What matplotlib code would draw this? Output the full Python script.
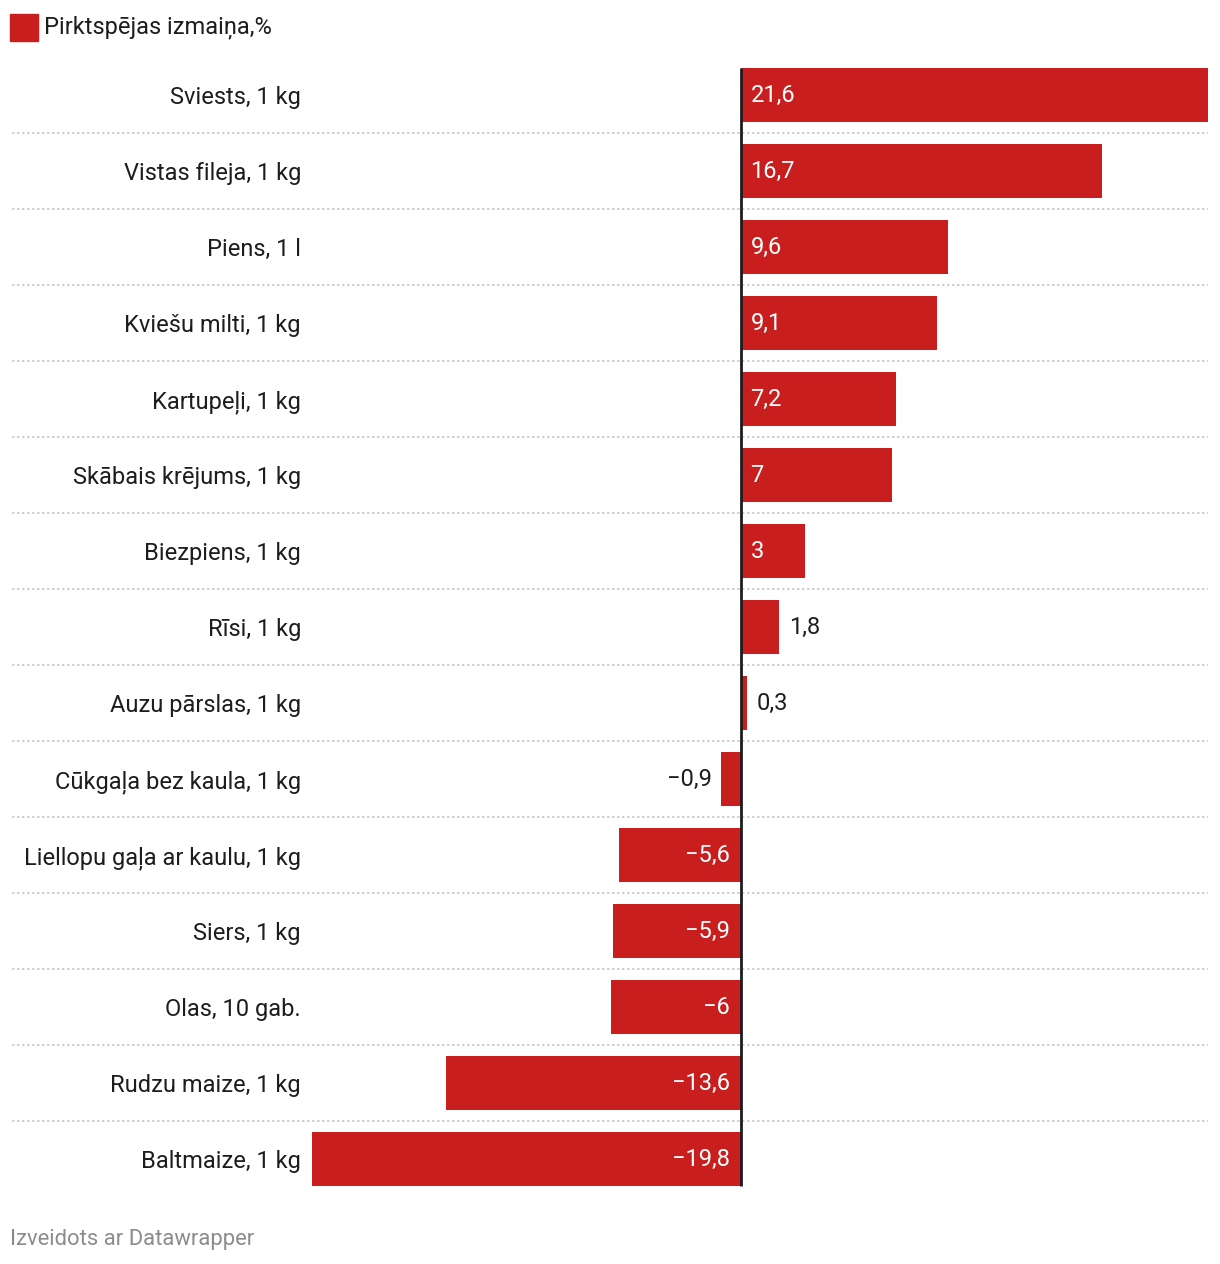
import matplotlib
matplotlib.use('Agg')
import matplotlib.pyplot as plt
from matplotlib.patches import Rectangle

plt.rcParams['font.family'] = ['Roboto', 'DejaVu Sans']

categories = ['Sviests, 1 kg', 'Vistas fileja, 1 kg', 'Piens, 1 l', 'Kviešu milti, 1 kg',
              'Kartupeļi, 1 kg', 'Skābais krējums, 1 kg', 'Biezpiens, 1 kg', 'Rīsi, 1 kg',
              'Auzu pārslas, 1 kg', 'Cūkgaļa bez kaula, 1 kg', 'Liellopu gaļa ar kaulu, 1 kg',
              'Siers, 1 kg', 'Olas, 10 gab.', 'Rudzu maize, 1 kg', 'Baltmaize, 1 kg']
values = [21.6, 16.7, 9.6, 9.1, 7.2, 7.0, 3.0, 1.8, 0.3, -0.9, -5.6, -5.9, -6.0, -13.6, -19.8]
legend_label = 'Pirktspējas izmaiņa,%'
footer = 'Izveidots ar Datawrapper'

red = '#c81e1e'
dark = '#1d1d1d'
fs = 17
W, H = 1220, 1264
fig = plt.figure(figsize=(W / 100, H / 100), dpi=100)

# axes placed in pixel terms: x 312..1208, y 57..1197
ax = fig.add_axes([312 / W, 1 - 1197 / H, (1208 - 312) / W, (1197 - 57) / H])
n = len(values)
ypos = list(range(n))
bar_h = 54 / 76
ax.barh(ypos, values, height=bar_h, color=red, zorder=2)
ax.set_xlim(min(values), max(values))
ax.set_ylim(n - 0.5, -0.5)
ax.set_yticks(ypos)
ax.set_yticklabels(categories, fontsize=fs, color=dark)
ax.tick_params(axis='y', length=0, pad=8)
ax.set_xticks([])
for s in ax.spines.values():
    s.set_visible(False)

# dotted separators, reaching left past the axes
x_left = -(312 - 12) / (1208 - 312)
for i in range(n - 1):
    ax.axhline(i + 0.5, xmin=x_left, xmax=1, color='#c8c8c8', lw=1.2,
               ls=(0, (1.5, 1.5)), clip_on=False, zorder=1)

# zero line
ax.vlines(0, -bar_h / 2, n - 1 + bar_h / 2, color=dark, lw=2, zorder=3)

# value labels
for y, v in zip(ypos, values):
    txt = ('%g' % v).replace('.', ',').replace('-', '\u2212')
    inside = abs(v) >= 3
    if v >= 0:
        if inside:
            ax.annotate(txt, (0, y), xytext=(10, 0), textcoords='offset pixels',
                        ha='left', va='center', color='white', fontsize=fs)
        else:
            ax.annotate(txt, (v, y), xytext=(10, 0), textcoords='offset pixels',
                        ha='left', va='center', color=dark, fontsize=fs)
    else:
        if inside:
            ax.annotate(txt, (0, y), xytext=(-11, 0), textcoords='offset pixels',
                        ha='right', va='center', color='white', fontsize=fs)
        else:
            ax.annotate(txt, (v, y), xytext=(-9, 0), textcoords='offset pixels',
                        ha='right', va='center', color=dark, fontsize=fs)

# legend
fig.patches.append(Rectangle((10 / W, 1 - 41 / H), 28 / W, 27 / H, transform=fig.transFigure,
                             color=red, figure=fig))
fig.text(44 / W, 1 - 27 / H, legend_label, fontsize=fs, color=dark, va='center', ha='left')

fig.text(10 / W, 1 - 1239 / H, footer, fontsize=15.8, color='#8c8c8c', va='center', ha='left')

fig.savefig('out.png', dpi=100)
